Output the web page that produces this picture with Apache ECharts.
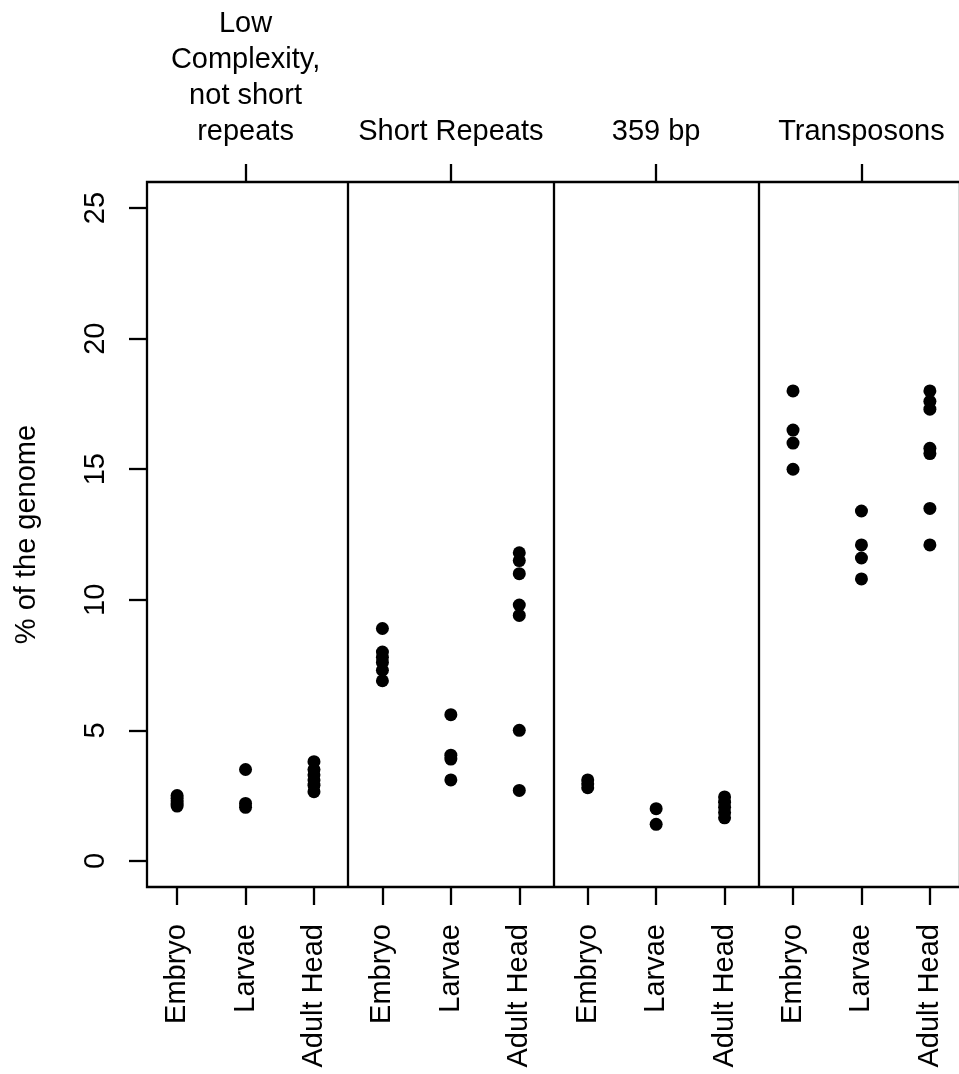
<!DOCTYPE html>
<html>
<head>
<meta charset="utf-8">
<title>Repeat content by stage</title>
<script src="https://cdn.jsdelivr.net/npm/echarts@6/dist/echarts.min.js"></script>
<style>
  html, body { margin: 0; padding: 0; background: #fff; }
  #chart { width: 959px; height: 1074px; }
</style>
</head>
<body>
<div id="chart"></div>
<script>
// Repeat classes (top axis) and developmental stages (bottom axis)
const groups = ['Low\nComplexity,\nnot short\nrepeats', 'Short Repeats', '359 bp', 'Transposons'];
const stages = ['Embryo', 'Larvae', 'Adult Head'];
const yTicks = [0, 5, 10, 15, 20, 25];

// % of the genome, one array per repeat class and stage
const lowEmbryo    = [2.5, 2.4, 2.3, 2.2, 2.1];
const lowLarvae    = [3.5, 2.2, 2.05];
const lowAdult     = [3.8, 3.5, 3.3, 3.1, 2.9, 2.65];
const shortEmbryo  = [8.9, 8.0, 7.8, 7.6, 7.3, 6.9];
const shortLarvae  = [5.6, 4.05, 3.9, 3.1];
const shortAdult   = [11.8, 11.5, 11.0, 9.8, 9.4, 5.0, 2.7];
const satEmbryo    = [3.1, 2.95, 2.8];
const satLarvae    = [2.0, 1.4];
const satAdult     = [2.45, 2.25, 2.05, 1.85, 1.65];
const tnEmbryo     = [18.0, 16.5, 16.0, 15.0];
const tnLarvae     = [13.4, 12.1, 11.6, 10.8];
const tnAdult      = [18.0, 17.6, 17.3, 15.8, 15.6, 13.5, 12.1];

const valuesByGroup = [
  [lowEmbryo, lowLarvae, lowAdult],
  [shortEmbryo, shortLarvae, shortAdult],
  [satEmbryo, satLarvae, satAdult],
  [tnEmbryo, tnLarvae, tnAdult]
];

// Each stage gets slot 1..12 along x; classes occupy three consecutive slots
const points = [];
valuesByGroup.forEach((stageArrays, g) => {
  stageArrays.forEach((vals, s) => {
    const slot = g * stages.length + s + 1;
    vals.forEach(v => points.push([slot, v]));
  });
});
const nSlots = groups.length * stages.length;
const slotTicks = Array.from({ length: nSlots }, (_, i) => i + 1);
const groupTicks = groups.map((_, g) => g * stages.length + 2);
const dividers = groups.slice(1).map((_, g) => (g + 1) * stages.length + 0.5);
const pad = (nSlots - 1) * 0.04;

const FONT = 'Liberation Sans, Arial, Helvetica, sans-serif';
const FS = 29;
const black = '#000';
const LW = 2.3;

const chart = echarts.init(document.getElementById('chart'), null, { renderer: 'canvas' });
chart.setOption({
  animation: false,
  backgroundColor: '#fff',
  textStyle: { fontFamily: FONT, color: black },
  grid: {
    left: 147, top: 182, width: 813, height: 705,
    show: true, borderColor: black, borderWidth: LW, backgroundColor: 'transparent',
    containLabel: false, outerBoundsMode: 'none'
  },
  xAxis: [
    {
      type: 'value', position: 'bottom',
      min: 1 - pad, max: nSlots + pad,
      axisLine: { show: false, onZero: false },
      splitLine: { show: false },
      axisTick: { show: true, length: 18, customValues: slotTicks, lineStyle: { color: black, width: LW } },
      axisLabel: {
        show: true, customValues: slotTicks, rotate: 90, margin: 37,
        fontSize: FS, fontFamily: FONT, color: black,
        formatter: v => stages[(Math.round(v) - 1) % stages.length]
      }
    },
    {
      type: 'value', position: 'top',
      min: 1 - pad, max: nSlots + pad,
      axisLine: { show: false, onZero: false },
      splitLine: { show: false },
      axisTick: { show: true, length: 18, customValues: groupTicks, lineStyle: { color: black, width: LW } },
      axisLabel: {
        show: true, customValues: groupTicks, margin: 32,
        fontSize: FS, lineHeight: 36, fontFamily: FONT, color: black, align: 'center',
        formatter: v => groups[(Math.round(v) - 2) / stages.length]
      }
    }
  ],
  yAxis: {
    type: 'value', min: -1, max: 26,
    name: '% of the genome', nameLocation: 'middle', nameRotate: 90, nameGap: 106,
    nameTextStyle: { fontSize: FS, fontFamily: FONT, color: black },
    axisLine: { show: false, onZero: false },
    splitLine: { show: false },
    axisTick: { show: true, length: 18, customValues: yTicks, lineStyle: { color: black, width: LW } },
    axisLabel: {
      show: true, customValues: yTicks, rotate: 90, margin: 37,
      fontSize: FS, fontFamily: FONT, color: black
    }
  },
  series: [{
    type: 'scatter',
    xAxisIndex: 0,
    symbol: 'circle',
    symbolSize: 13,
    itemStyle: { color: black, opacity: 1 },
    data: points,
    markLine: {
      silent: true,
      symbol: ['none', 'none'],
      label: { show: false },
      lineStyle: { color: black, width: LW, type: 'solid' },
      data: dividers.map(x => ({ xAxis: x }))
    }
  }]
});
</script>
</body>
</html>
